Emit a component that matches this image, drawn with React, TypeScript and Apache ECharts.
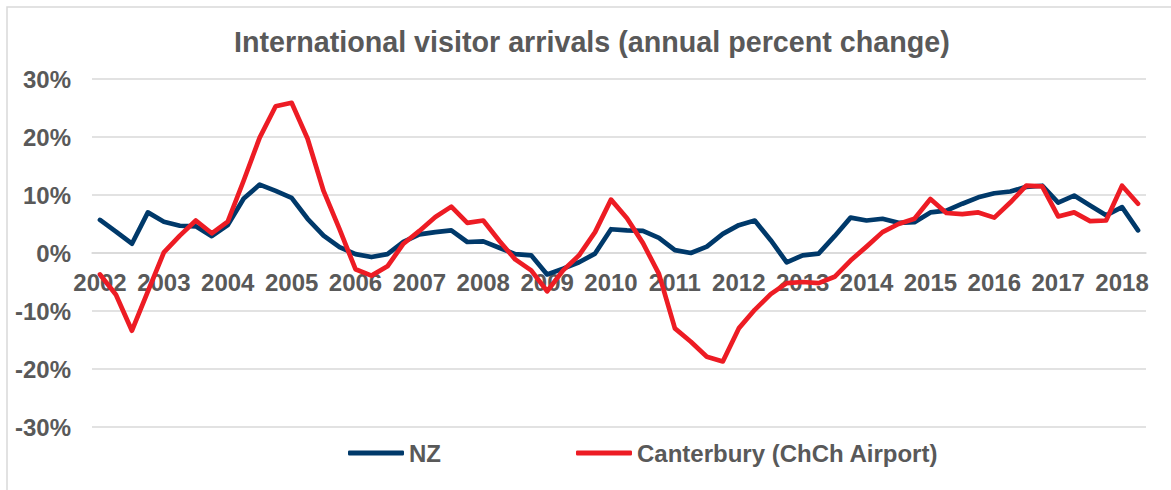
import React, { useEffect, useRef } from "react";
import * as echarts from "echarts";

const years = [2002, 2003, 2004, 2005, 2006, 2007, 2008, 2009, 2010, 2011, 2012, 2013, 2014, 2015, 2016, 2017, 2018];
const quarterNames = ["Q1", "Q2", "Q3", "Q4"];
const pointCount = 66;

const nzValues = [
  5.7, 3.7, 1.6, 7.0, 5.4, 4.7, 4.6, 2.9, 4.8, 9.4,
  11.8, 10.7, 9.5, 5.9, 3.0, 1.0, -0.2, -0.7, -0.2, 1.9,
  3.2, 3.6, 3.9, 1.9, 2.0, 0.9, -0.2, -0.4, -3.7, -2.7,
  -1.6, -0.1, 4.1, 3.9, 3.8, 2.6, 0.5, 0.0, 1.1, 3.3,
  4.8, 5.6, 2.2, -1.6, -0.4, -0.1, 2.9, 6.1, 5.6, 5.9,
  5.2, 5.3, 7.0, 7.3, 8.5, 9.6, 10.3, 10.6, 11.4, 11.6,
  8.7, 9.9, 8.2, 6.5, 7.9, 3.9,
];

const canterburyValues = [
  -3.7, -7.2, -13.4, -6.6, 0.1, 3.0, 5.6, 3.4, 5.4, 12.5,
  19.9, 25.3, 25.9, 19.7, 10.7, 4.1, -2.8, -3.9, -2.3, 1.6,
  3.8, 6.2, 8.0, 5.2, 5.6, 2.1, -1.1, -3.0, -6.6, -3.0,
  -0.4, 3.6, 9.2, 6.0, 1.7, -3.6, -13.0, -15.3, -17.9, -18.7,
  -13.0, -9.8, -7.1, -5.2, -5.0, -5.2, -4.1, -1.3, 1.1, 3.6,
  5.0, 5.9, 9.3, 6.9, 6.7, 7.0, 6.1, 8.7, 11.6, 11.5,
  6.3, 7.0, 5.5, 5.6, 11.6, 8.5,
];

const categories: string[] = [];
years.forEach((y) => quarterNames.forEach((q) => categories.push(`${y} ${q}`)));
const xCategories = categories.slice(0, pointCount);

const TEXT = "#595959";
const GRID = "#d9d9d9";
const FONT = "'Liberation Sans', Arial, sans-serif";
const GRID_TOP = 79;
const GRID_BOTTOM = 63;
const CHART_H = 490;

export default function App() {
  const ref = useRef<HTMLDivElement>(null);
  useEffect(() => {
    if (!ref.current) return;
    const chart = echarts.init(ref.current, undefined, { renderer: "svg" });
    // move the category axis up to the zero line of the value axis (-30..30 → middle of the grid)
    const plotH = CHART_H - GRID_TOP - GRID_BOTTOM;
    const zeroOffset = -plotH / 2;
    chart.setOption({
      animation: false,
      backgroundColor: "#ffffff",
      textStyle: { fontFamily: FONT },
      graphic: [
        {
          type: "rect",
          shape: { x: 7, y: 7, width: 1300, height: 600 },
          style: { fill: "none", stroke: GRID, lineWidth: 1.5 },
          silent: true,
        },
      ],
      title: {
        text: "International visitor arrivals (annual percent change)",
        left: 234,
        top: 27,
        padding: 0,
        textStyle: { fontFamily: FONT, fontSize: 28.7, fontWeight: "bold", color: TEXT },
      },
      legend: {
        left: 348,
        top: 441,
        padding: 0,
        itemGap: 135,
        itemWidth: 56,
        itemHeight: 5,
        icon: "roundRect",
        textStyle: { fontFamily: FONT, fontSize: 24, fontWeight: "bold", color: TEXT },
        data: ["NZ", "Canterbury (ChCh Airport)"],
      },
      grid: { left: 92, right: 25, top: GRID_TOP, bottom: GRID_BOTTOM, containLabel: false },
      xAxis: {
        type: "category",
        data: xCategories,
        boundaryGap: true,
        position: "bottom",
        offset: zeroOffset,
        axisLine: { show: true, onZero: false, lineStyle: { color: GRID, width: 1.5 } },
        axisTick: { show: false },
        axisLabel: {
          interval: 3,
          margin: 17,
          fontFamily: FONT,
          fontSize: 24,
          fontWeight: "bold",
          color: TEXT,
          formatter: (v: string) => v.slice(0, 4),
        },
        splitLine: { show: false },
      },
      yAxis: {
        type: "value",
        min: -30,
        max: 30,
        interval: 10,
        axisLine: { show: false },
        axisTick: { show: false },
        axisLabel: {
          margin: 21,
          fontFamily: FONT,
          fontSize: 24,
          fontWeight: "bold",
          color: TEXT,
          formatter: "{value}%",
        },
        splitLine: { lineStyle: { color: GRID, width: 1.5 } },
      },
      series: [
        {
          name: "NZ",
          type: "line",
          data: nzValues,
          symbol: "none",
          color: "#00396a",
          lineStyle: { width: 4.7, color: "#00396a", cap: "round", join: "round" },
          z: 2,
        },
        {
          name: "Canterbury (ChCh Airport)",
          type: "line",
          data: canterburyValues,
          symbol: "none",
          color: "#ed1c24",
          lineStyle: { width: 4.7, color: "#ed1c24", cap: "round", join: "round" },
          z: 3,
        },
      ],
    });
    return () => chart.dispose();
  }, []);
  return (
    <div
      ref={ref}
      style={{ position: "absolute", left: 0, top: 0, width: 1171, height: CHART_H }}
    />
  );
}
